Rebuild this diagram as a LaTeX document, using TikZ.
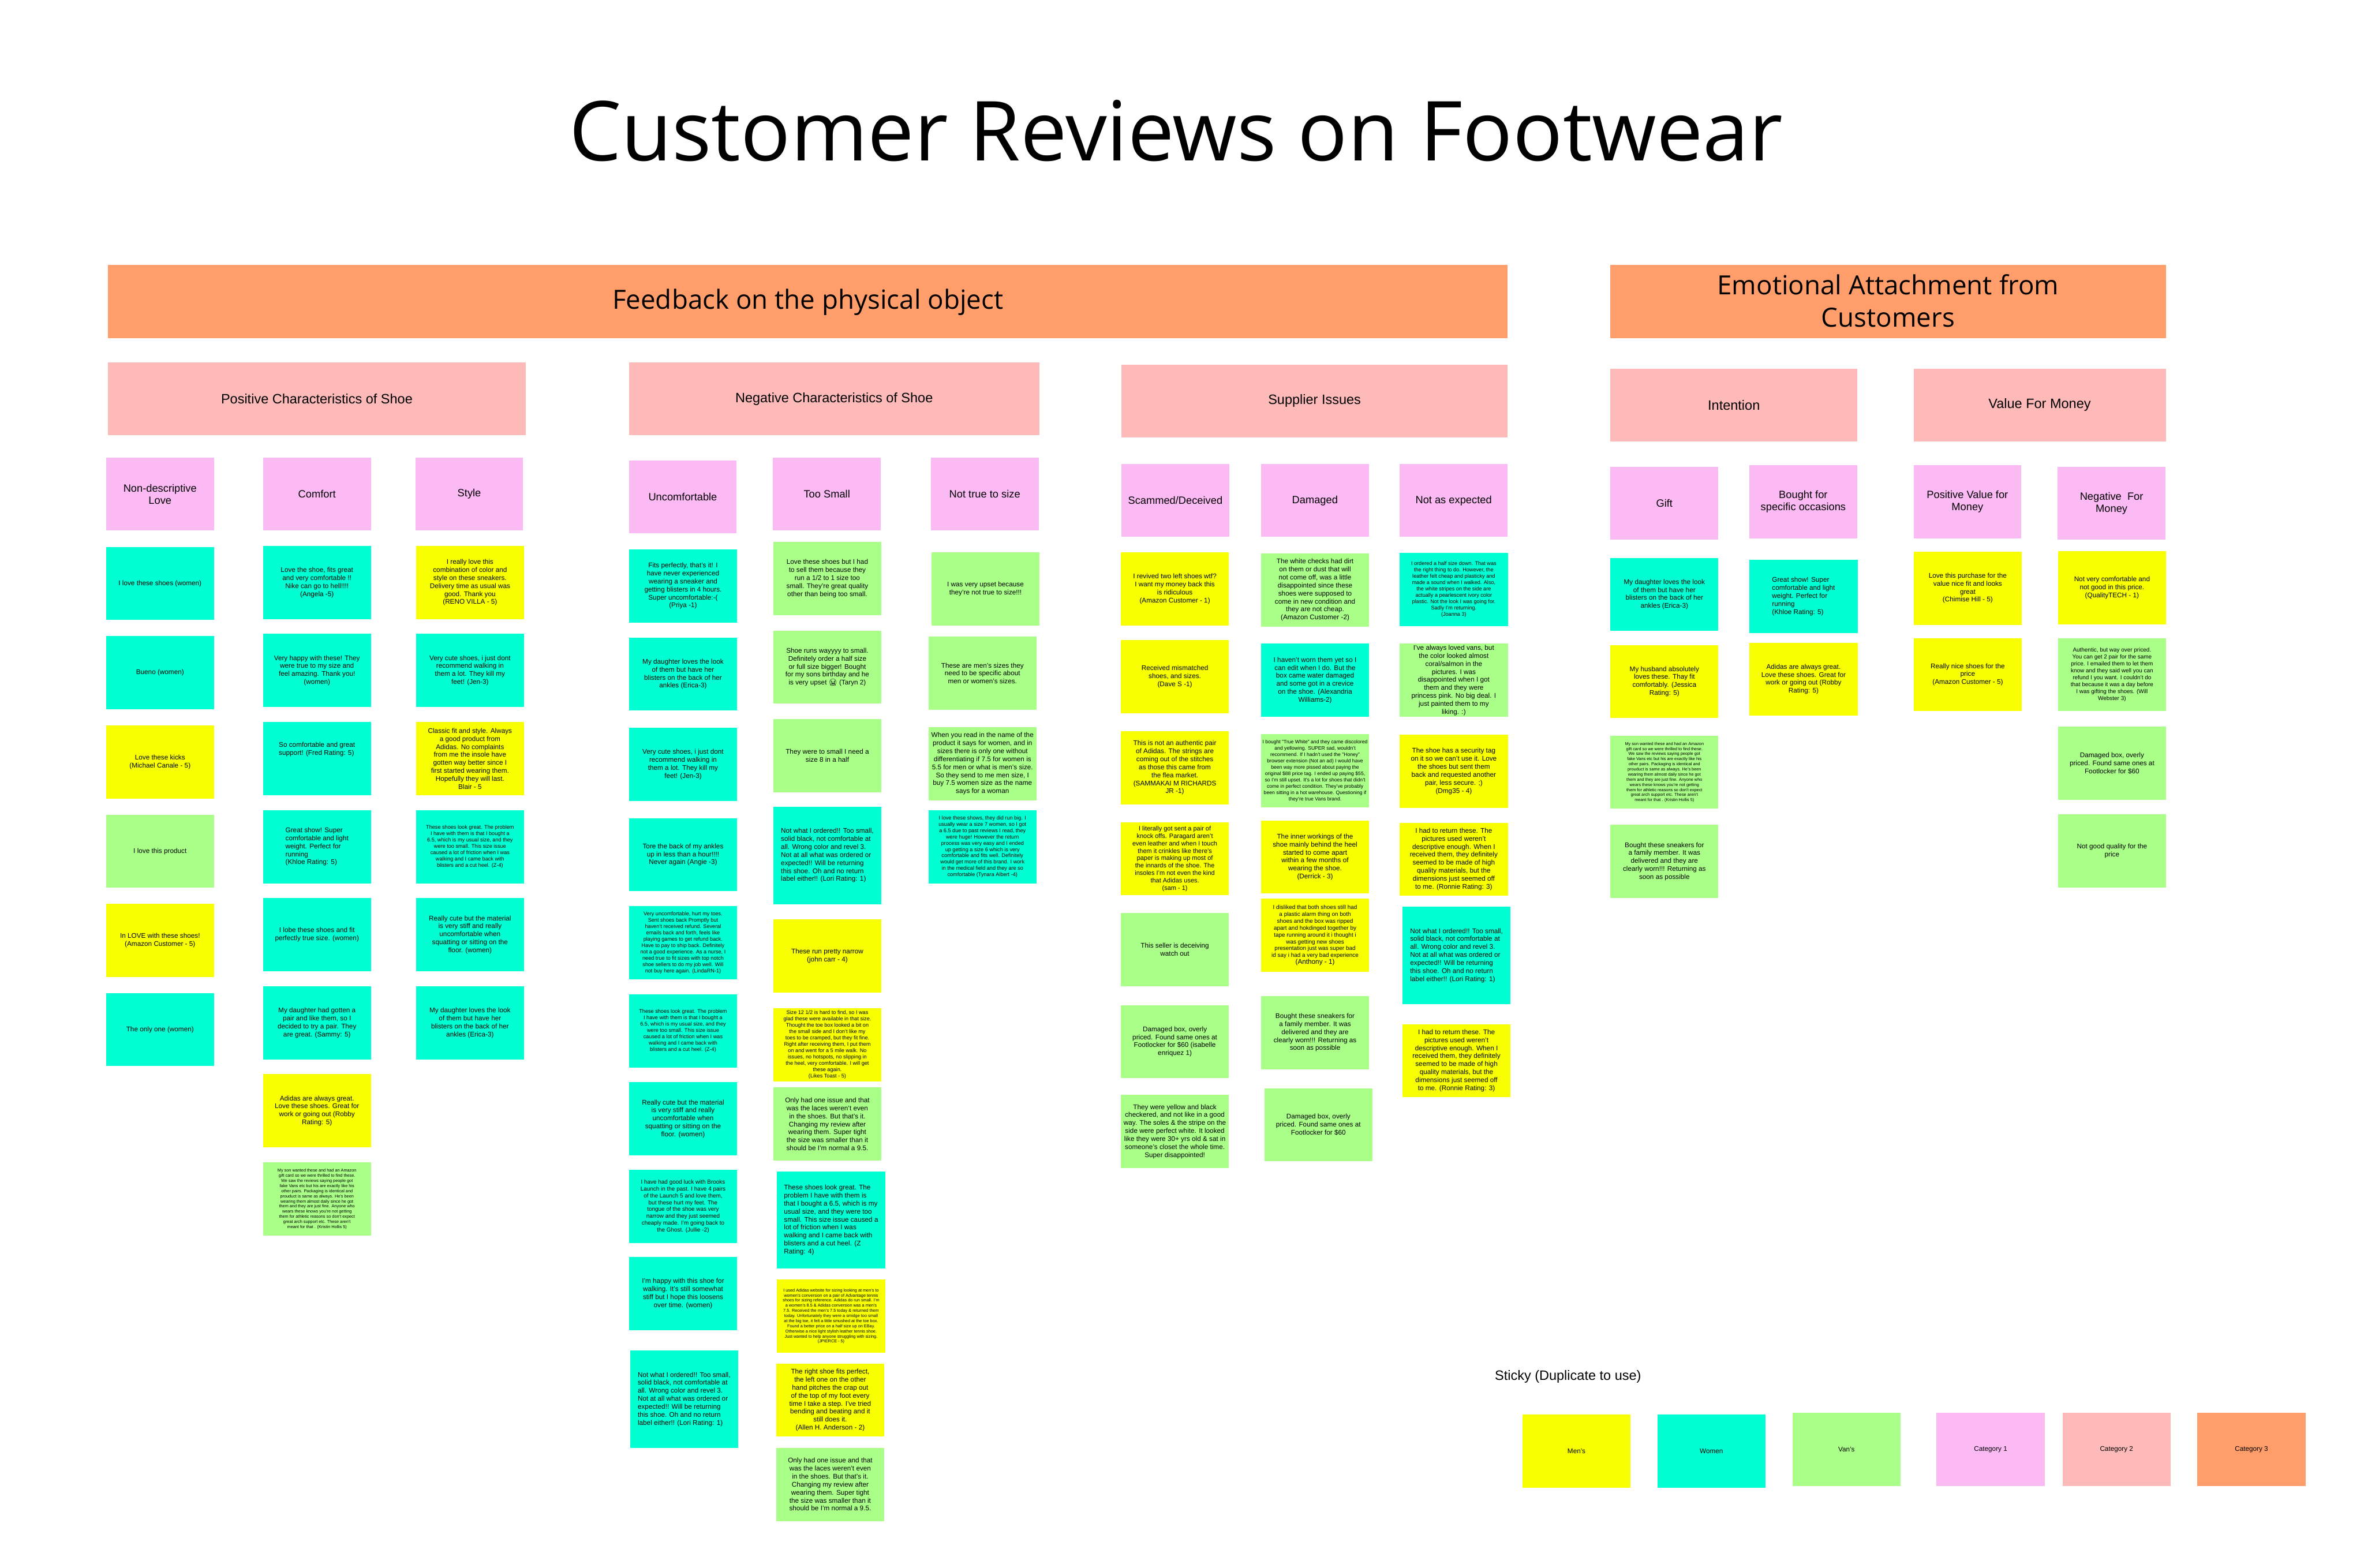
\documentclass[tikz,border=0pt]{standalone}
\usepackage{fontspec}
\setmainfont{Liberation Sans}
\newfontfamily\titlefont{Open Sans}
\newfontfamily\emojifont{Noto Emoji}
\usepackage{tikz}
\usetikzlibrary{positioning}
\definecolor{revYellow}{HTML}{F7FF00}
\definecolor{revCyan}{HTML}{00FFD2}
\definecolor{revGreen}{HTML}{A9FF88}
\definecolor{revPink}{HTML}{FCBAF5}
\definecolor{revRose}{HTML}{FEB9B9}
\definecolor{revOrange}{HTML}{FF9E6A}

\begin{document}
\begin{tikzpicture}[x=1pt, y=-1pt,
  note/.style={anchor=north west, minimum width=71.7pt, minimum height=48.5pt,
    inner sep=1pt, align=center, font=\fontsize{4.5}{5.3}\selectfont},
  smallnote/.style={note, font=\fontsize{3.5}{4.2}\selectfont},
  tinynote/.style={note, font=\fontsize{2.8}{3.4}\selectfont},
  tallnote/.style={note, minimum height=64.5pt, align=left},
  men/.style={fill=revYellow},
  women/.style={fill=revCyan},
  vans/.style={fill=revGreen},
  subcat/.style={anchor=north west, minimum width=71.5pt, minimum height=48.3pt,
    inner sep=1pt, fill=revPink, align=center, font=\fontsize{7}{8}\selectfont},
  cathead/.style={anchor=north west, minimum height=48.3pt, inner sep=0pt,
    fill=revRose, font=\fontsize{9}{11}\selectfont},
  banner/.style={anchor=north west, minimum height=48.4pt, inner sep=0pt,
    fill=revOrange, align=center, font=\titlefont\fontsize{17.5}{21.4}\selectfont}]

  \useasboundingbox (0,0) rectangle (1568,1040);

  \node[anchor=base, inner sep=0pt, font=\titlefont\fontsize{54.9}{60}\selectfont] (title) at (780,106.5) {Customer Reviews on Footwear};

  % Top level
  \node[banner, minimum width=928.4pt, text depth=3pt] (physical) at (71.4,175.6) {Feedback on the physical object};
  \node[banner, minimum width=368.3pt, text depth=1pt] (emotional) at (1068,175.6) {Emotional Attachment from\\Customers};

  % Categories
  \node[cathead, minimum width=277.1pt] (positive) at (71.4,240.2) {Positive Characteristics of Shoe};
  \node[cathead, minimum width=272.3pt] (negative) at (416.9,240.2) {Negative Characteristics of Shoe};
  \node[cathead, minimum width=256.2pt] (supplier) at (743.6,241.6) {Supplier Issues};
  \node[cathead, minimum width=163.7pt] (intention) at (1068,244.3) {Intention};
  \node[cathead, minimum width=167.3pt] (value) at (1269,244.3) {Value For Money};

  % Sub categories
  \node[subcat] (nondesc) at (70.2,303.4) {Non-descriptive\\Love};
  \node[subcat] (comfort) at (174.3,303.4) {Comfort};
  \node[subcat] (style) at (275.3,303.4) {Style};
  \node[subcat] (uncomf) at (416.9,305.4) {Uncomfortable};
  \node[subcat] (toosmall) at (512.5,303.4) {Too Small};
  \node[subcat] (nottrue) at (617.2,303.4) {Not true to size};
  \node[subcat] (scammed) at (743.6,307.7) {Scammed/Deceived};
  \node[subcat] (damaged) at (836.2,307.7) {Damaged};
  \node[subcat] (notexp) at (928.2,307.7) {Not as expected};
  \node[subcat] (gift) at (1068,309.6) {Gift};
  \node[subcat] (occasion) at (1160.1,308.5) {Bought for\\specific occasions};
  \node[subcat] (posval) at (1269,308.5) {Positive Value for\\Money};
  \node[subcat] (negval) at (1364.6,309.6) {Negative\ \ For\\Money};

  % Non-descriptive love
  \node[note, women] (love1) at (70.1,362.6) {I love these shoes (women)};
  \node[note, women] (love2) at (70.1,421.8) {Bueno (women)};
  \node[note, men] (love3) at (70.1,481.0) {Love these kicks\\(Michael Canale - 5)};
  \node[note, vans] (love4) at (70.1,540.2) {I love this product};
  \node[note, men] (love5) at (70.1,599.3) {In LOVE with these shoes!\\(Amazon Customer - 5)};
  \node[note, women] (love6) at (70.1,658.5) {The only one (women)};

  % Comfort
  \node[note, women] (comf1) at (174.2,361.9) {Love the shoe, fits great\\and very comfortable !!\\Nike can go to hell!!!!\\(Angela -5)};
  \node[note, women] (comf2) at (174.2,420.3) {Very happy with these! They\\were true to my size and\\feel amazing. Thank you!\\(women)};
  \node[note, women, align=left] (comf3) at (174.2,478.8) {So comfortable and great\\support! (Fred Rating: 5)\\[8pt]\mbox{}};
  \node[note, women, align=left] (comf4) at (174.2,537.2) {Great show! Super\\comfortable and light\\weight. Perfect for\\running\\(Khloe Rating: 5)};
  \node[note, women] (comf5) at (174.2,595.6) {I lobe these shoes and fit\\perfectly true size. (women)};
  \node[note, women] (comf6) at (174.2,654.1) {My daughter had gotten a\\pair and like them, so I\\decided to try a pair. They\\are great. (Sammy: 5)};
  \node[note, men] (comf7) at (174.2,712.4) {Adidas are always great.\\Love these shoes. Great for\\work or going out (Robby\\Rating: 5)};
  \node[tinynote, vans] (comf8) at (174.2,770.9) {My son wanted these and had an Amazon\\gift card so we were thrilled to find these.\\We saw the reviews saying people got\\fake Vans etc but his are exactly like his\\other pairs. Packaging is identical and\\prouduct is same as always. He's been\\wearing them almost daily since he got\\them and they are just fine. Anyone who\\wears these knows you're not getting\\them for athletic reasons so don't expect\\great arch support etc. These aren't\\meant for that . (Kristin Hollis 5)};

  % Style
  \node[note, men] (style1) at (275.7,361.9) {I really love this\\combination of color and\\style on these sneakers.\\Delivery time as usual was\\good. Thank you\\(RENO VILLA - 5)};
  \node[note, women] (style2) at (275.7,420.3) {Very cute shoes, i just dont\\recommend walking in\\them a lot. They kill my\\feet! (Jen-3)};
  \node[note, men] (style3) at (275.7,478.8) {Classic fit and style. Always\\a good product from\\Adidas. No complaints\\from me the insole have\\gotten way better since I\\first started wearing them.\\Hopefully they will last.\\Blair - 5};
  \node[smallnote, women] (style4) at (275.7,537.2) {These shoes look great. The problem\\I have with them is that I bought a\\6.5, which is my usual size, and they\\were too small. This size issue\\caused a lot of friction when I was\\walking and I came back with\\blisters and a cut heel. (Z-4)};
  \node[note, women] (style5) at (275.7,595.6) {Really cute but the material\\is very stiff and really\\uncomfortable when\\squatting or sitting on the\\floor. (women)};
  \node[note, women] (style6) at (275.7,654.1) {My daughter loves the look\\of them but have her\\blisters on the back of her\\ankles (Erica-3)};

  % Uncomfortable
  \node[note, women] (uncomf1) at (417,364.2) {Fits perfectly, that's it! I\\have never experienced\\wearing a sneaker and\\getting blisters in 4 hours.\\Super uncomfortable:-(\\(Priya -1)};
  \node[note, women] (uncomf2) at (417,422.7) {My daughter loves the look\\of them but have her\\blisters on the back of her\\ankles (Erica-3)};
  \node[note, women] (uncomf3) at (417,482.6) {Very cute shoes, i just dont\\recommend walking in\\them a lot. They kill my\\feet! (Jen-3)};
  \node[note, women] (uncomf4) at (417,542.5) {Tore the back of my ankles\\up in less than a hour!!!!\\Never again (Angie -3)};
  \node[smallnote, women] (uncomf5) at (417,600.9) {Very uncomfortable, hurt my toes.\\Sent shoes back Promptly but\\haven't received refund. Several\\emails back and forth, feels like\\playing games to get refund back.\\Have to pay to ship back. Definitely\\not a good experience. As a nurse, I\\need true to fit sizes with top notch\\shoe sellers to do my job well. Will\\not buy here again. (LindaRN-1)};
  \node[smallnote, women] (uncomf6) at (417,659.4) {These shoes look great. The problem\\I have with them is that I bought a\\6.5, which is my usual size, and they\\were too small. This size issue\\caused a lot of friction when I was\\walking and I came back with\\blisters and a cut heel. (Z-4)};
  \node[note, women] (uncomf7) at (417,717.7) {Really cute but the material\\is very stiff and really\\uncomfortable when\\squatting or sitting on the\\floor. (women)};
  \node[note, women, font=\fontsize{3.8}{4.55}\selectfont] (uncomf8) at (417,775.8) {I have had good luck with Brooks\\Launch in the past. I have 4 pairs\\of the Launch 5 and love them,\\but these hurt my feet. The\\tongue of the shoe was very\\narrow and they just seemed\\cheaply made. I'm going back to\\the Ghost. (Jullie -2)};
  \node[note, women] (uncomf9) at (417,833.5) {I'm happy with this shoe for\\walking. It's still somewhat\\stiff but I hope this loosens\\over time. (women)};
  \node[tallnote, women] (uncomf10) at (417.7,895.7) {Not what I ordered!! Too small,\\solid black, not comfortable at\\all. Wrong color and revel 3.\\Not at all what was ordered or\\expected!! Will be returning\\this shoe. Oh and no return\\label either!! (Lori Rating: 1)};

  % Too small
  \node[note, vans] (small1) at (512.7,359.3) {Love these shoes but I had\\to sell them because they\\run a 1/2 to 1 size too\\small. They're great quality\\other than being too small.};
  \node[note, vans] (small2) at (512.7,418.1) {Shoe runs wayyyy to small.\\Definitely order a half size\\or full size bigger! Bought\\for my sons birthday and he\\is very upset {\emojifont 😭} (Taryn 2)};
  \node[note, vans] (small3) at (512.7,476.9) {They were to small I need a\\size 8 in a half};
  \node[tallnote, women] (small4) at (512.7,535.0) {Not what I ordered!! Too small,\\solid black, not comfortable at\\all. Wrong color and revel 3.\\Not at all what was ordered or\\expected!! Will be returning\\this shoe. Oh and no return\\label either!! (Lori Rating: 1)};
  \node[note, men] (small5) at (512.7,609.7) {These run pretty narrow\\(john carr - 4)};
  \node[smallnote, men] (small6) at (512.7,668.5) {Size 12 1/2 is hard to find, so I was\\glad these were available in that size.\\Thought the toe box looked a bit on\\the small side and I don't like my\\toes to be cramped, but they fit fine.\\Right after receiving them, I put them\\on and went for a 5 mile walk. No\\issues, no hotspots, no slipping in\\the heel, very comfortable. I will get\\these again.\\(Likes Toast - 5)};
  \node[note, vans] (small7) at (512.7,721.2) {Only had one issue and that\\was the laces weren't even\\in the shoes. But that's it.\\Changing my review after\\wearing them. Super tight\\the size was smaller than it\\should be I'm normal a 9.5.};
  \node[tallnote, women] (small8) at (515.2,776.8) {These shoes look great. The\\problem I have with them is\\that I bought a 6.5, which is my\\usual size, and they were too\\small. This size issue caused a\\lot of friction when I was\\walking and I came back with\\blisters and a cut heel. (Z\\Rating: 4)};
  \node[tinynote, men] (small9) at (515.2,848.6) {I used Adidas website for sizing looking at men's to\\women's conversion on a pair of Advantage tennis\\shoes for sizing reference. Adidas do run small. I'm\\a women's 8.5 \& Adidas conversion was a men's\\7.5. Received the men's 7.5 today \& returned them\\today. Unfortunately they were a smidge too small\\at the big toe, it felt a little smushed at the toe box.\\Found a better price on a half size up on EBay.\\Otherwise a nice light stylish leather tennis shoe.\\Just wanted to help anyone struggling with sizing.\\(JPIERCE - 5)};
  \node[note, men] (small10) at (514.6,904.3) {The right shoe fits perfect,\\the left one on the other\\hand pitches the crap out\\of the top of my foot every\\time I take a step. I've tried\\bending and beating and it\\still does it.\\(Allen H. Anderson - 2)};
  \node[note, vans] (small11) at (514.6,960.2) {Only had one issue and that\\was the laces weren't even\\in the shoes. But that's it.\\Changing my review after\\wearing them. Super tight\\the size was smaller than it\\should be I'm normal a 9.5.};

  % Not true to size
  \node[note, vans] (size1) at (617.6,366.1) {I was very upset because\\they're not true to size!!!};
  \node[note, vans] (size2) at (615.6,422.2) {These are men's sizes they\\need to be specific about\\men or women's sizes.};
  \node[note, vans] (size3) at (615.6,482.1) {When you read in the name of the\\product it says for women, and in\\sizes there is only one without\\differentiating if 7.5 for women is\\5.5 for men or what is men's size.\\So they send to me men size, I\\buy 7.5 women size as the name\\says for a woman};
  \node[smallnote, women] (size4) at (615.6,537.2) {I love these shows, they did run big. I\\usually wear a size 7 women, so I got\\a 6.5 due to past reviews I read, they\\were huge! However the return\\process was very easy and I ended\\up getting a size 6 which is very\\comfortable and fits well. Definitely\\would get more of this brand. I work\\in the medical field and they are so\\comfortable (Tynara Albert -4)};

  % Scammed / deceived
  \node[note, men] (scam1) at (743.2,366.2) {I revived two left shoes wtf?\\I want my money back this\\is ridiculous\\(Amazon Customer - 1)};
  \node[note, men] (scam2) at (743.2,424.5) {Received mismatched\\shoes, and sizes.\\(Dave S -1)};
  \node[note, men] (scam3) at (743.2,484.8) {This is not an authentic pair\\of Adidas. The strings are\\coming out of the stitches\\as those this came from\\the flea market.\\(SAMMAKAI M RICHARDS\\JR -1)};
  \node[note, men, font=\fontsize{4.2}{4.93}\selectfont] (scam4) at (743.2,545.2) {I literally got sent a pair of\\knock offs. Paragard aren't\\even leather and when I touch\\them it crinkles like there's\\paper is making up most of\\the innards of the shoe. The\\insoles I'm not even the kind\\that Adidas uses.\\(sam - 1)};
  \node[note, vans] (scam5) at (743.2,605.5) {This seller is deceiving\\watch out};
  \node[note, vans] (scam6) at (743.2,666.5) {Damaged box, overly\\priced. Found same ones at\\Footlocker for \$60 (isabelle\\enriquez 1)};
  \node[note, vans] (scam7) at (743.2,726.1) {They were yellow and black\\checkered, and not like in a good\\way. The soles \& the stripe on the\\side were perfect white. It looked\\like they were 30+ yrs old \& sat in\\someone's closet the whole time.\\Super disappointed!};

  % Damaged
  \node[note, vans] (dmg1) at (836.2,366.9) {The white checks had dirt\\on them or dust that will\\not come off, was a little\\disappointed since these\\shoes were supposed to\\come in new condition and\\they are not cheap.\\(Amazon Customer -2)};
  \node[note, women] (dmg2) at (836.2,426.8) {I haven't worn them yet so I\\can edit when I do. But the\\box came water damaged\\and some got in a crevice\\on the shoe. (Alexandria\\Williams-2)};
  \node[smallnote, vans, font=\fontsize{3.3}{4.2}\selectfont] (dmg3) at (836.2,486.8) {I bought "True White" and they came discolored\\and yellowing. SUPER sad, wouldn't\\recommend. If I hadn't used the "Honey"\\browser extension (Not an ad) I would have\\been way more pissed about paying the\\original \$88 price tag. I ended up paying \$55,\\so I'm still upset. It's a lot for shoes that didn't\\come in perfect condition. They've probably\\been sitting in a hot warehouse. Questioning if\\they're true Vans brand.};
  \node[note, men] (dmg4) at (836.2,544.0) {The inner workings of the\\shoe mainly behind the heel\\started to come apart\\within a few months of\\wearing the shoe.\\(Derrick - 3)};
  \node[note, men, font=\fontsize{3.8}{4.55}\selectfont] (dmg5) at (836.2,596.0) {I disliked that both shoes still had\\a plastic alarm thing on both\\shoes and the box was ripped\\apart and hokdinged together by\\tape running around it i thought i\\was getting new shoes\\presentation just was super bad\\id say i had a very bad experience\\{\fontsize{4.5}{5.3}\selectfont (Anthony - 1)}};
  \node[note, vans] (dmg6) at (836.2,660.5) {Bought these sneakers for\\a family member. It was\\delivered and they are\\clearly worn!!! Returning as\\soon as possible};
  \node[note, vans] (dmg7) at (838.4,721.6) {Damaged box, overly\\priced. Found same ones at\\Footlocker for \$60};

  % Not as expected
  \node[smallnote, women] (exp1) at (928.2,366.5) {I ordered a half size down. That was\\the right thing to do. However, the\\leather felt cheap and plasticky and\\made a sound when I walked. Also,\\the white stripes on the side are\\actually a pearlescent ivory color\\plastic. Not the look I was going for.\\Sadly I'm returning.\\(Joanna 3)};
  \node[note, vans] (exp2) at (928.2,426.8) {I've always loved vans, but\\the color looked almost\\coral/salmon in the\\pictures. I was\\disappointed when I got\\them and they were\\princess pink. No big deal. I\\just painted them to my\\liking. :)};
  \node[note, men] (exp3) at (928.2,487.2) {The shoe has a security tag\\on it so we can't use it. Love\\the shoes but sent them\\back and requested another\\pair, less secure. ;)\\(Dmg35 - 4)};
  \node[note, men] (exp4) at (928.2,545.5) {I had to return these. The\\pictures used weren't\\descriptive enough. When I\\received them, they definitely\\seemed to be made of high\\quality materials, but the\\dimensions just seemed off\\to me. (Ronnie Rating: 3)};
  \node[tallnote, women] (exp5) at (930,601.3) {Not what I ordered!! Too small,\\solid black, not comfortable at\\all. Wrong color and revel 3.\\Not at all what was ordered or\\expected!! Will be returning\\this shoe. Oh and no return\\label either!! (Lori Rating: 1)};
  \node[note, men] (exp6) at (930,679.1) {I had to return these. The\\pictures used weren't\\descriptive enough. When I\\received them, they definitely\\seemed to be made of high\\quality materials, but the\\dimensions just seemed off\\to me. (Ronnie Rating: 3)};

  % Gift
  \node[note, women] (gift1) at (1067.9,369.8) {My daughter loves the look\\of them but have her\\blisters on the back of her\\ankles (Erica-3)};
  \node[note, men] (gift2) at (1067.9,427.6) {My husband absolutely\\loves these. Thay fit\\comfortably. (Jessica\\Rating: 5)};
  \node[tinynote, vans] (gift3) at (1067.9,487.8) {My son wanted these and had an Amazon\\gift card so we were thrilled to find these.\\We saw the reviews saying people got\\fake Vans etc but his are exactly like his\\other pairs. Packaging is identical and\\prouduct is same as always. He's been\\wearing them almost daily since he got\\them and they are just fine. Anyone who\\wears these knows you're not getting\\them for athletic reasons so don't expect\\great arch support etc. These aren't\\meant for that . (Kristin Hollis 5)};
  \node[note, vans] (gift4) at (1067.9,547.0) {Bought these sneakers for\\a family member. It was\\delivered and they are\\clearly worn!!! Returning as\\soon as possible};

  % Specific occasions
  \node[note, women, align=left] (occ1) at (1160.2,371.1) {Great show! Super\\comfortable and light\\weight. Perfect for\\running\\(Khloe Rating: 5)};
  \node[note, men] (occ2) at (1160.2,426.1) {Adidas are always great.\\Love these shoes. Great for\\work or going out (Robby\\Rating: 5)};

  % Value for money
  \node[note, men] (pos1) at (1269.1,365.7) {Love this purchase for the\\value nice fit and looks\\great\\(Chimise Hill - 5)};
  \node[note, men] (pos2) at (1269.1,423.0) {Really nice shoes for the\\price\\(Amazon Customer - 5)};
  \node[note, men] (neg1) at (1364.8,365.4) {Not very comfortable and\\not good in this price.\\(QualityTECH - 1)};
  \node[note, vans, font=\fontsize{3.8}{4.55}\selectfont] (neg2) at (1364.8,423.0) {Authentic, but way over priced.\\You can get 2 pair for the same\\price. I emailed them to let them\\know and they said well you can\\refund I you want. I couldn't do\\that because it was a day before\\I was gifting the shoes. (Will\\Webster 3)};
  \node[note, vans] (neg3) at (1364.8,481.8) {Damaged box, overly\\priced. Found same ones at\\Footlocker for \$60};
  \node[note, vans] (neg4) at (1364.8,539.9) {Not good quality for the\\price};

  % Legend
  \node[anchor=west, inner sep=0pt, font=\fontsize{9}{11}\selectfont] (legend) at (991.3,913) {Sticky (Duplicate to use)};
  \node[note, men] (keymen) at (1009.6,938.2) {Men's};
  \node[note, women] (keywomen) at (1099.1,938.2) {Women};
  \node[note, vans] (keyvans) at (1188.7,937.1) {Van's};
  \node[note, fill=revPink] (keycat1) at (1284.3,937.1) {Category 1};
  \node[note, fill=revRose] (keycat2) at (1367.8,937.1) {Category 2};
  \node[note, fill=revOrange] (keycat3) at (1457.3,937.1) {Category 3};
\end{tikzpicture}
\end{document}
